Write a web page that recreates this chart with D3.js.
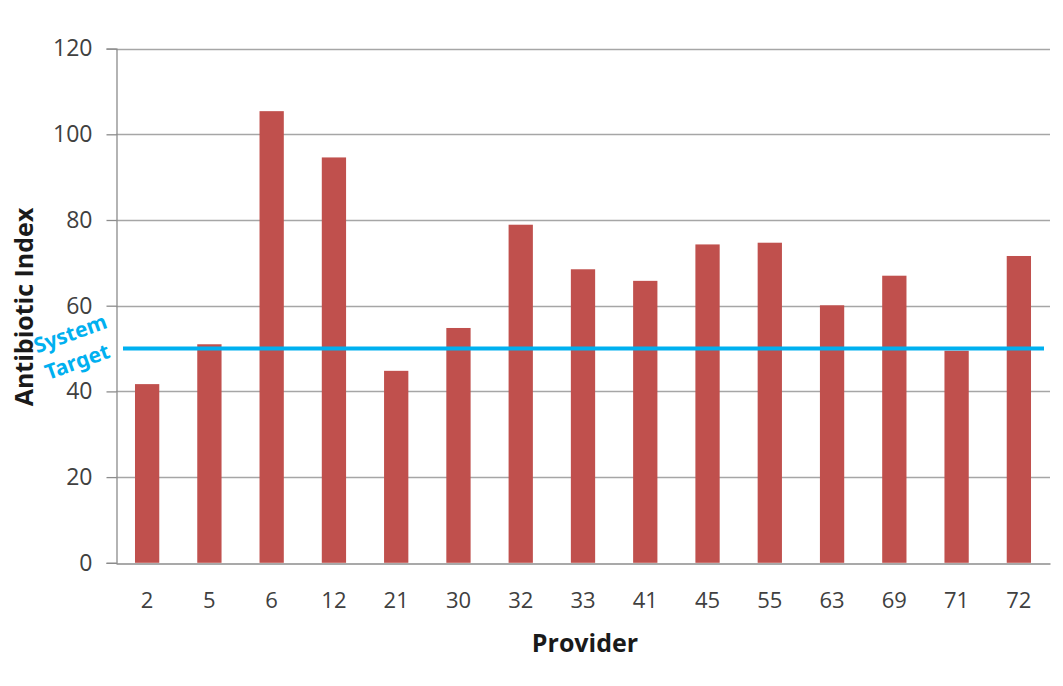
<!DOCTYPE html>
<html>
<head>
<meta charset="utf-8">
<script src="https://cdn.jsdelivr.net/npm/d3@7"></script>
<style>
  html, body { margin: 0; padding: 0; background: #fff; }
  svg { display: block; }
</style>
</head>
<body>
<svg id="chart" width="1063" height="686"></svg>
<script>
// Antibiotic index per provider, with the system-wide target
const providers = ["2", "5", "6", "12", "21", "30", "32", "33", "41", "45", "55", "63", "69", "71", "72"];
const antibioticIndex = [41.7, 51, 105.4, 94.6, 44.8, 54.8, 78.9, 68.5, 65.8, 74.3, 74.7, 60.1, 67, 49.5, 71.6];
const yTicks = [0, 20, 40, 60, 80, 100, 120];
const systemTarget = 50;

const svg = d3.select("#chart");
const plotLeft = 116, plotRight = 1050, plotTop = 48.6, plotBottom = 562.8;
const labelFont = "'Open Sans', 'Liberation Sans', sans-serif";

const x = d3.scaleBand().domain(providers).range([plotLeft, plotRight]).paddingInner(0.61).paddingOuter(0.305);
const y = d3.scaleLinear().domain([0, 120]).range([plotBottom, plotTop]);

// horizontal gridlines
svg.append("g")
  .selectAll("line")
  .data(yTicks.filter(d => d > 0))
  .join("line")
  .attr("x1", plotLeft).attr("x2", plotRight)
  .attr("y1", d => Math.round(y(d)) + 0.5).attr("y2", d => Math.round(y(d)) + 0.5)
  .attr("stroke", "#a6a6a6").attr("stroke-width", 1.3);

// y axis
const yAxis = svg.append("g")
  .attr("transform", `translate(${plotLeft + 0.5},0)`)
  .call(d3.axisLeft(y).tickValues(yTicks).tickSize(10).tickPadding(14));
yAxis.select(".domain").attr("stroke", "#8c8c8c").attr("stroke-width", 1.3);
yAxis.selectAll(".tick line").attr("stroke", "#8c8c8c").attr("stroke-width", 1.3);
yAxis.selectAll(".tick text")
  .attr("font-family", labelFont)
  .attr("font-size", 23).attr("fill", "#404040");

// bars
svg.append("g")
  .selectAll("rect")
  .data(providers.map((p, i) => ({ p, v: antibioticIndex[i] })))
  .join("rect")
  .attr("x", d => x(d.p))
  .attr("width", x.bandwidth())
  .attr("y", d => y(d.v))
  .attr("height", d => y(0) - y(d.v))
  .attr("fill", "#c0504d");

// x axis
const xAxis = svg.append("g")
  .attr("transform", `translate(0,${Math.round(plotBottom) + 0.5})`)
  .call(d3.axisBottom(x).tickSize(0).tickPadding(29));
xAxis.select(".domain").attr("stroke", "#8c8c8c").attr("stroke-width", 1.3);
xAxis.selectAll(".tick text")
  .attr("font-family", labelFont)
  .attr("font-size", 22).attr("fill", "#404040");

// system target line
svg.append("line")
  .attr("x1", 123).attr("x2", 1044)
  .attr("y1", y(systemTarget)).attr("y2", y(systemTarget))
  .attr("stroke", "#00b0f0").attr("stroke-width", 4);

// target label, two tilted lines
const targetLines = [
  { text: "System", cx: 70, cy: 333 },
  { text: "Target", cx: 77, cy: 361 }
];
svg.append("g")
  .selectAll("text")
  .data(targetLines)
  .join("text")
  .attr("transform", d => `translate(${d.cx},${d.cy}) rotate(-20)`)
  .attr("text-anchor", "middle")
  .attr("dominant-baseline", "central")
  .attr("font-family", "'Noto Sans', 'Open Sans', sans-serif")
  .attr("font-weight", "bold")
  .attr("font-size", 21)
  .attr("fill", "#00b0f0")
  .text(d => d.text);

// axis titles
svg.append("text")
  .attr("x", 585)
  .attr("y", 652)
  .attr("text-anchor", "middle")
  .attr("font-family", labelFont)
  .attr("font-weight", "bold").attr("font-size", 25).attr("fill", "#1a1a1a")
  .text("Provider");

svg.append("text")
  .attr("transform", "translate(23,307) rotate(-90)")
  .attr("text-anchor", "middle")
  .attr("dominant-baseline", "central")
  .attr("font-family", labelFont)
  .attr("font-weight", "bold").attr("font-size", 25).attr("fill", "#1a1a1a")
  .text("Antibiotic Index");
</script>
</body>
</html>
